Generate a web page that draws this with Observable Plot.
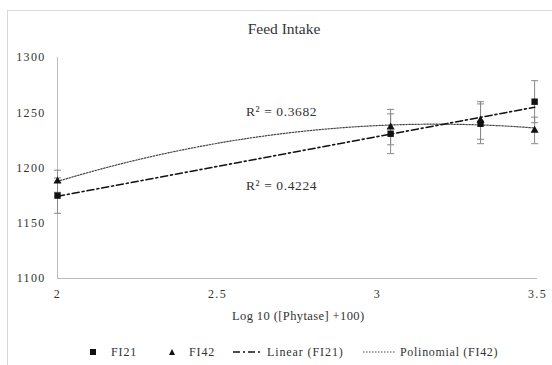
<!DOCTYPE html>
<html><head><meta charset="utf-8">
<script src="https://cdn.jsdelivr.net/npm/d3@7"></script>
<script src="https://cdn.jsdelivr.net/npm/@observablehq/plot@0.6"></script>
<style>
body{margin:0;background:#fff;font-family:"Liberation Serif",serif;color:#333}
#wrap{position:relative;width:552px;height:365px;overflow:hidden}
#frame{position:absolute;left:7px;top:10px;width:560px;height:370px;border:1px solid #d9d9d9}
#title{position:absolute;left:0;width:568px;top:20px;text-align:center;font-size:15.5px}
#xlabel{position:absolute;left:232px;top:309px;font-size:12.5px;letter-spacing:0.4px;white-space:nowrap}
.lg{position:absolute;top:344px;font-size:12px;letter-spacing:0.9px;white-space:nowrap;line-height:16px}
.ls{position:absolute;top:347px}
#chart{position:absolute;left:0;top:0}
#chart svg g[aria-label="y-axis tick label"] text,#chart svg g[aria-label="x-axis tick label"] text{letter-spacing:1.3px}
</style></head>
<body><div id="wrap"><div id="frame"></div><div id="chart"></div>
<div id="title">Feed Intake</div>
<div id="xlabel">Log 10 ([Phytase] +100)</div>
<svg class="ls" style="left:88px" width="10" height="10"><rect x="2" y="2" width="6" height="6" fill="#111"/></svg>
<div class="lg" style="left:111px">FI21</div>
<svg class="ls" style="left:167px" width="10" height="10"><path d="M5,2L8,8L2,8Z" fill="#111"/></svg>
<div class="lg" style="left:189px">FI42</div>
<svg class="ls" style="left:232px" width="32" height="10"><line x1="1" y1="5" x2="31" y2="5" stroke="#111" stroke-width="1.6" stroke-dasharray="7,3,2,3"/></svg>
<div class="lg" style="left:267px">Linear (FI21)</div>
<svg class="ls" style="left:362px" width="34" height="10"><line x1="1" y1="5" x2="33" y2="5" stroke="#444" stroke-width="1.2" stroke-dasharray="1.5,1.5"/></svg>
<div class="lg" style="left:400px;letter-spacing:0.7px">Polinomial (FI42)</div>
</div>
<script>
const xVals = [2, 3.041, 3.322, 3.491];
const fi21 = [1175, 1231, 1240, 1260];
const fi21Err = [16, 18, 18, 19];
const fi42 = [1188, 1237, 1243, 1234];
const fi42Err = [10, 16, 17, 12];
const xTicks = [2, 2.5, 3, 3.5];
const yTicks = [1100, 1150, 1200, 1250, 1300];
const r2Labels = [
  {x: 2.70, y: 1251, t: "R² = 0.3682"},
  {x: 2.70, y: 1184, t: "R² = 0.4224"}
];

const d21 = xVals.map((x,i)=>({x, y: fi21[i], e: fi21Err[i]}));
const d42 = xVals.map((x,i)=>({x, y: fi42[i], e: fi42Err[i]}));

// quadratic least-squares fit for FI42 trend
function quadFit(xs, ys){
  const n = xs.length; let S=[0,0,0,0,0], T=[0,0,0];
  for(let i=0;i<n;i++){for(let k=0;k<5;k++)S[k]+=xs[i]**k;for(let k=0;k<3;k++)T[k]+=ys[i]*xs[i]**k;}
  const A=[[S[0],S[1],S[2],T[0]],[S[1],S[2],S[3],T[1]],[S[2],S[3],S[4],T[2]]];
  for(let i=0;i<3;i++){for(let j=i+1;j<3;j++){const f=A[j][i]/A[i][i];for(let k=i;k<4;k++)A[j][k]-=f*A[i][k];}}
  const c=[0,0,0];for(let i=2;i>=0;i--){let s=A[i][3];for(let k=i+1;k<3;k++)s-=A[i][k]*c[k];c[i]=s/A[i][i];}
  return x=>c[0]+c[1]*x+c[2]*x*x;
}
const q = quadFit(xVals, fi42);
const polyCurve = d3.range(xVals[0], xVals[3]+1e-9, (xVals[3]-xVals[0])/80).map(x=>({x, y:q(x)}));

const capSym = {draw(ctx, size){const r=3.5;ctx.moveTo(-r,0);ctx.lineTo(r,0);}};
const caps = d => [
  Plot.dot(d, {x:"x", y:d=>d.y+d.e, symbol:capSym, stroke:"#888", strokeWidth:1, r:3}),
  Plot.dot(d, {x:"x", y:d=>d.y-d.e, symbol:capSym, stroke:"#888", strokeWidth:1, r:3})
];

const chart = Plot.plot({
  width: 552, height: 300,
  marginLeft: 57, marginRight: 15, marginTop: 57, marginBottom: 22,
  style: {fontFamily: "Liberation Serif, serif", fontSize: "12px", color: "#333", background: "transparent"},
  x: {domain: [2, 3.5], ticks: xTicks, tickSize: 0, tickPadding: 11, label: null, tickFormat: d=>String(d)},
  y: {domain: [1100, 1300], ticks: yTicks, tickSize: 0, tickPadding: 12, label: null, tickFormat: d=>String(d)},
  marks: [
    Plot.ruleX([2], {stroke:"#bbb"}),
    Plot.ruleY([1100], {stroke:"#bbb"}),
    Plot.ruleX(d21, {x:"x", y1:d=>d.y-d.e, y2:d=>d.y+d.e, stroke:"#888"}),
    Plot.ruleX(d42, {x:"x", y1:d=>d.y-d.e, y2:d=>d.y+d.e, stroke:"#888"}),
    ...caps(d21), ...caps(d42),
    Plot.line(polyCurve, {x:"x", y:"y", stroke:"#444", strokeWidth:1.2, strokeDasharray:"1.5,1.5"}),
    Plot.linearRegressionY(d21, {x:"x", y:"y", ci:0, stroke:"#111", strokeWidth:1.6, strokeDasharray:"7,3,2,3"}),
    Plot.dot(d21, {x:"x", y:"y", symbol:"square", fill:"#111", r:3.6}),
    Plot.dot(d42, {x:"x", y:"y", symbol:"triangle", fill:"#111", r:3}),
    Plot.text(r2Labels, {x:"x", y:"y", text:"t", fontSize:13.5, fill:"#333"})
  ]
});
chart.querySelectorAll('g[aria-label="text"] text').forEach(t=>t.style.letterSpacing="0.6px");
document.getElementById("chart").append(chart);
</script></body></html>
